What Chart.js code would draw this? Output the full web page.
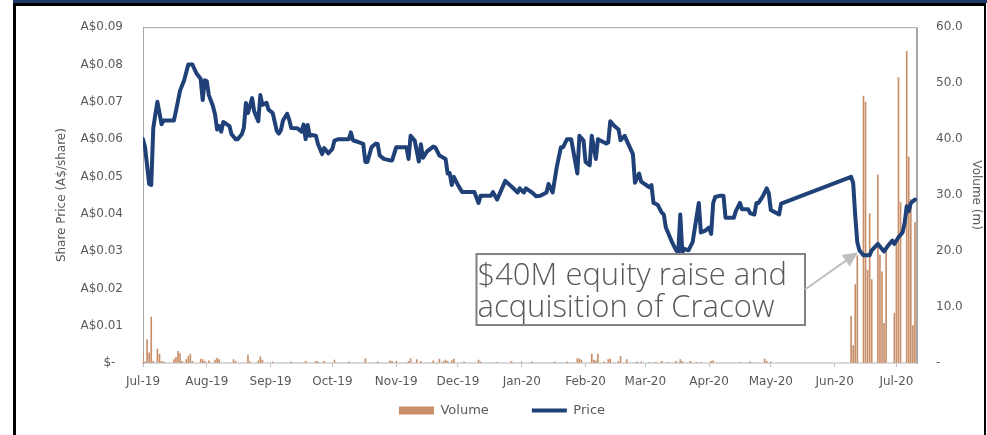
<!DOCTYPE html>
<html>
<head>
<meta charset="utf-8">
<script src="https://cdn.jsdelivr.net/npm/chart.js@4.4.1/dist/chart.umd.min.js"></script>
<style>
  body { margin: 0; background: #fff; }
  #topBar { position: absolute; left: 13px; top: 0; width: 974px; height: 3px; background: #1F3864; }
  #frame { position: absolute; left: 13px; top: 3px; width: 968px; height: 440px;
           border-left: 3px solid #000; border-top: 3px solid #000; border-right: 2px solid #000; }
  #wrap { position: absolute; left: 0; top: 0; width: 987px; height: 435px; }
</style>
</head>
<body>
<div id="topBar"></div>
<div id="frame"></div>
<div id="wrap"><canvas id="shareChart"></canvas></div>
<script>
Chart.defaults.font.family = '"DejaVu Sans", sans-serif';
Chart.defaults.color = '#595959';

/// x axis: days since 1-Jul-19, labelled at each month start
const tickDays = [0, 31, 62, 92, 123, 153, 184, 215, 244, 275, 305, 336, 366];
const tickLabels = ['Jul-19', 'Aug-19', 'Sep-19', 'Oct-19', 'Nov-19', 'Dec-19', 'Jan-20',
                    'Feb-20', 'Mar-20', 'Apr-20', 'May-20', 'Jun-20', 'Jul-20'];

/// Share price (A$/share), by day since 1-Jul-19
const priceDay = [0, 1, 3, 4, 5, 6, 7, 9, 10, 15, 16, 18, 20, 22, 24, 26, 28, 29, 30, 31, 32, 34, 35, 36, 37, 38, 39,
    41, 42, 43, 45, 46, 48, 49, 50, 51, 53, 54, 56, 57, 58, 60, 61, 63, 65, 66, 67, 68, 70, 71, 72, 75, 77, 78, 79, 80,
    81, 82, 84, 85, 87, 88, 90, 92, 93, 95, 100, 101, 102, 105, 107, 108, 109, 111, 113, 114, 115, 117, 120, 121, 123,
    128, 129, 130, 132, 134, 135, 136, 138, 141, 142, 144, 147, 148, 149, 150, 151, 153, 155, 161, 163, 164, 169, 170,
    172, 176, 179, 182, 183, 185, 186, 189, 191, 193, 196, 197, 199, 201, 203, 204, 206, 208, 211, 212, 214, 215, 217,
    218, 220, 221, 225, 226, 227, 229, 231, 232, 234, 235, 238, 239, 241, 242, 246, 247, 248, 250, 252, 253, 254, 256,
    257, 259, 260, 261, 262, 263, 265, 267, 270, 271, 273, 275, 276, 277, 278, 280, 282, 283, 287, 288, 290, 291, 294,
    295, 297, 298, 299, 301, 303, 304, 305, 309, 310, 344, 345, 346, 347, 348, 350, 353, 354, 357, 360, 362, 364, 365,
    367, 369, 370, 371, 372, 373, 375];
const priceValue = [0.060, 0.0578, 0.048, 0.0477, 0.063, 0.0666, 0.070, 0.064, 0.065, 0.065, 0.0675, 0.073, 0.0758,
    0.080, 0.080, 0.0776, 0.0762, 0.0705, 0.0758, 0.0755, 0.0718, 0.0688, 0.0666, 0.0626, 0.0635, 0.062, 0.0646,
    0.0639, 0.0635, 0.0613, 0.060, 0.060, 0.0613, 0.063, 0.0697, 0.067, 0.071, 0.0675, 0.0648, 0.0718, 0.0692, 0.0697,
    0.0679, 0.067, 0.0622, 0.0615, 0.0624, 0.065, 0.0668, 0.0653, 0.063, 0.0629, 0.062, 0.0639, 0.060, 0.0638, 0.0609,
    0.0611, 0.0609, 0.0587, 0.056, 0.0576, 0.0562, 0.0574, 0.0596, 0.060, 0.060, 0.0618, 0.0597, 0.0591, 0.0587,
    0.0539, 0.0539, 0.0578, 0.0588, 0.0587, 0.0556, 0.0547, 0.0543, 0.0543, 0.0578, 0.0578, 0.0547, 0.0609, 0.0596,
    0.054, 0.0586, 0.055, 0.0567, 0.058, 0.0578, 0.0556, 0.0547, 0.0508, 0.0509, 0.0477, 0.0499, 0.0477, 0.0458,
    0.0458, 0.0429, 0.0448, 0.0448, 0.0458, 0.0438, 0.0488, 0.0473, 0.0457, 0.0468, 0.0457, 0.0468, 0.0457, 0.0447,
    0.0448, 0.0457, 0.048, 0.0457, 0.0525, 0.0578, 0.0578, 0.060, 0.060, 0.0508, 0.0609, 0.0596, 0.0539, 0.053, 0.0609,
    0.0547, 0.060, 0.0588, 0.0591, 0.0648, 0.0635, 0.0626, 0.0597, 0.0609, 0.0596, 0.056, 0.0483, 0.0508, 0.0486,
    0.0471, 0.0477, 0.0429, 0.0424, 0.0403, 0.0398, 0.0363, 0.0337, 0.0324, 0.0302, 0.0297, 0.0398, 0.0297, 0.0306,
    0.0302, 0.0324, 0.0429, 0.035, 0.0354, 0.0363, 0.0346, 0.0429, 0.0445, 0.0448, 0.0448, 0.0389, 0.0389, 0.0407,
    0.0429, 0.0412, 0.0412, 0.0401, 0.0398, 0.0429, 0.0429, 0.0446, 0.0468, 0.0455, 0.041, 0.0398, 0.0427, 0.0499,
    0.0482, 0.0394, 0.0324, 0.0302, 0.0289, 0.0289, 0.0302, 0.0319, 0.0299, 0.0315, 0.0328, 0.0319, 0.0337, 0.035,
    0.0376, 0.042, 0.0407, 0.0429, 0.0438];

/// Volume traded (m shares), by day since 1-Jul-19
const volumeDay = [0, 1, 2, 3, 4, 5, 7, 8, 9, 10, 15, 16, 17, 18, 19, 21, 22, 23, 24, 28, 29, 30, 32, 35, 36, 37, 44, 45,
    51, 52, 56, 57, 58, 63, 72, 79, 84, 85, 88, 93, 100, 108, 114, 120, 121, 123, 129, 130, 133, 135, 141, 144, 146, 147,
    148, 150, 151, 156, 163, 164, 172, 179, 184, 189, 200, 206, 211, 212, 213, 218, 219, 220, 221, 224, 226, 227, 231,
    232, 235, 240, 242, 246, 249, 252, 255, 259, 261, 262, 266, 269, 271, 276, 277, 290, 295, 302, 303, 305, 344, 345,
    346, 347, 350, 351, 352, 353, 354, 357, 358, 359, 360, 361, 365, 366, 367, 368, 371, 372, 373, 374, 375];
const volumeValue = [1.7, 0.2, 4.2, 1.8, 8.2, 0.3, 2.5, 1.6, 0.3, 0.2, 0.6, 1.0, 2.1, 1.7, 0.3, 0.6, 1.2, 1.6, 0.3, 0.7,
    0.6, 0.3, 0.4, 0.5, 0.9, 0.6, 0.6, 0.3, 1.4, 0.2, 0.4, 1.1, 0.5, 0.2, 0.2, 0.3, 0.3, 0.2, 0.3, 0.5, 0.2, 0.8, 0.2,
    0.4, 0.3, 0.3, 0.3, 0.8, 0.6, 0.3, 0.4, 0.7, 0.3, 0.5, 0.3, 0.4, 0.7, 0.2, 0.5, 0.2, 0.1, 0.3, 0.2, 0.2, 0.2, 0.2,
    0.8, 0.7, 0.5, 1.6, 0.5, 0.4, 1.6, 0.2, 0.6, 0.7, 0.3, 1.2, 0.6, 0.2, 0.2, 0.1, 0.1, 0.3, 0.1, 0.3, 0.6, 0.3, 0.3,
    0.1, 0.1, 0.3, 0.4, 0.1, 0.2, 0.7, 0.3, 0.2, 8.4, 3.1, 14.0, 19.2, 47.7, 46.6, 16.6, 26.7, 14.9, 33.6, 19.3, 16.3,
    7.1, 20.1, 8.9, 21.7, 51.0, 28.7, 55.7, 36.8, 29.2, 6.7, 25.1];

/// Callout text and where it sits (box top-left and arrow tip, in chart values)
const noteLines = ['$40M equity raise and', 'acquisition of Cracow'];
const noteBox = { day: 162, price: 0.0292 };
const noteTip = { day: 347.3, price: 0.0297 };

// grey frame round the top and sides of the plot area
const plotFrame = {
    id: 'plotFrame',
    beforeDatasetsDraw(chart) {
        const { ctx, chartArea: a } = chart;
        ctx.save();
        ctx.strokeStyle = '#A6A6A6';
        ctx.lineWidth = 1;
        ctx.beginPath();
        ctx.moveTo(a.left + 0.5, a.bottom);
        ctx.lineTo(a.left + 0.5, a.top + 0.5);
        ctx.lineTo(a.right - 0.5, a.top + 0.5);
        ctx.lineTo(a.right - 0.5, a.bottom);
        ctx.stroke();
        ctx.restore();
    }
};

// text box with arrow pointing at the capital raise
const callout = {
    id: 'callout',
    afterDatasetsDraw(chart) {
        const { ctx, scales: { x, y } } = chart;
        const left = x.getPixelForValue(noteBox.day);
        const top = y.getPixelForValue(noteBox.price);
        ctx.save();
        ctx.font = '300 31px "Open Sans", sans-serif';
        const w = Math.max(...noteLines.map(t => ctx.measureText(t).width)) + 19;
        const h = 71;
        ctx.fillStyle = '#fff';
        ctx.fillRect(left, top, w, h);
        ctx.strokeStyle = '#808080';
        ctx.lineWidth = 2;
        ctx.strokeRect(left, top, w, h);
        ctx.fillStyle = '#595959';
        ctx.textBaseline = 'alphabetic';
        noteLines.forEach((t, i) => ctx.fillText(t, left + 1, top + 31 + i * 32));

        // arrow
        const x0 = left + w, y0 = top + h / 2;
        const x1 = x.getPixelForValue(noteTip.day), y1 = y.getPixelForValue(noteTip.price);
        const ang = Math.atan2(y1 - y0, x1 - x0);
        ctx.strokeStyle = '#BFBFBF';
        ctx.fillStyle = '#BFBFBF';
        ctx.lineWidth = 2;
        ctx.beginPath();
        ctx.moveTo(x0, y0);
        ctx.lineTo(x1 - 12 * Math.cos(ang), y1 - 12 * Math.sin(ang));
        ctx.stroke();
        ctx.beginPath();
        ctx.moveTo(x1, y1);
        ctx.lineTo(x1 - 15 * Math.cos(ang) + 7 * Math.sin(ang), y1 - 15 * Math.sin(ang) - 7 * Math.cos(ang));
        ctx.lineTo(x1 - 15 * Math.cos(ang) - 7 * Math.sin(ang), y1 - 15 * Math.sin(ang) + 7 * Math.cos(ang));
        ctx.closePath();
        ctx.fill();
        ctx.restore();
    }
};

const shareChart = new Chart("shareChart", {
    type: "bar",
    data: {
        datasets: [
            {
                label: "Volume",
                yAxisID: "y1",
                order: 1,
                backgroundColor: "rgb(200, 142, 104)",
                borderWidth: 0,
                barThickness: 1,
                grouped: false,
                pointStyle: "rect",
                data: volumeDay.map((d, i) => ({ x: d, y: volumeValue[i] }))
            },
            {
                type: "line",
                label: "Price",
                yAxisID: "y",
                order: 0,
                borderColor: "#1F4178",
                backgroundColor: "#1F4178",
                borderWidth: 4,
                borderCapStyle: "round",
                borderJoinStyle: "round",
                pointRadius: 0,
                pointStyle: "line",
                tension: 0,
                data: priceDay.map((d, i) => ({ x: d, y: priceValue[i] }))
            }
        ]
    },
    options: {
        responsive: true,
        maintainAspectRatio: false,
        animation: false,
        layout: { padding: { top: 21, bottom: 8, left: 17, right: 0 } },
        plugins: {
            tooltip: { enabled: false },
            legend: {
                position: "bottom",
                labels: {
                    usePointStyle: true,
                    pointStyleWidth: 35,
                    boxHeight: 8,
                    padding: 10,
                    color: "#595959",
                    font: { size: 13 },
                    // keep Volume first; widen the gap before Price
                    generateLabels(chart) {
                        const items = Chart.defaults.plugins.legend.labels.generateLabels(chart);
                        items.sort((a, b) => a.datasetIndex - b.datasetIndex);
                        items[0].text = items[0].text + '        ';
                        return items;
                    }
                }
            }
        },
        scales: {
            x: {
                type: "linear",
                min: 0,
                max: 376,
                offset: false,
                afterBuildTicks: s => { s.ticks = tickDays.map(v => ({ value: v })); },
                afterFit: s => { s.height = 31; },
                ticks: {
                    autoSkip: false,
                    maxRotation: 0,
                    padding: 8,
                    font: { size: 12 },
                    callback: (v, i) => tickLabels[i]
                },
                grid: { drawOnChartArea: false, drawTicks: true, tickLength: 4, color: "#BFBFBF", offset: false },
                border: { color: "#D9D9D9", width: 2 }
            },
            y: {
                position: "left",
                min: 0,
                max: 0.09,
                afterFit: s => { s.width = 126; },
                ticks: {
                    stepSize: 0.01,
                    padding: 20,
                    font: { size: 12 },
                    callback: v => v === 0 ? '$-  ' : 'A$' + v.toFixed(2)
                },
                grid: { drawOnChartArea: false, drawTicks: false },
                border: { color: "#A6A6A6", width: 1 },
                title: {
                    display: true,
                    text: "Share Price (A$/share)",
                    font: { size: 12 },
                    padding: { top: 38, bottom: 0 }
                }
            },
            y1: {
                position: "right",
                min: 0,
                max: 60,
                afterFit: s => { s.width = 70; },
                ticks: {
                    stepSize: 10,
                    padding: 19,
                    font: { size: 12 },
                    callback: v => v === 0 ? '-' : v.toFixed(1)
                },
                grid: { drawOnChartArea: false, drawTicks: false },
                border: { color: "#A6A6A6", width: 1 },
                title: {
                    display: true,
                    text: "Volume (m)",
                    font: { size: 12 },
                    padding: { top: 4, bottom: 0 }
                }
            }
        }
    },
    plugins: [plotFrame, callout]
});
</script>
</body>
</html>
